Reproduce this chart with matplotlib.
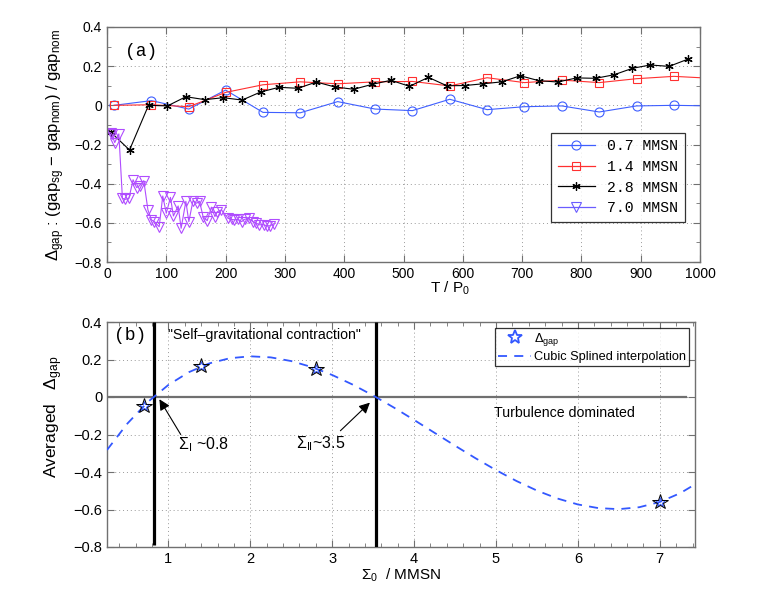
import matplotlib
matplotlib.use("Agg")
import matplotlib.pyplot as plt
from matplotlib.lines import Line2D
from matplotlib.ticker import MultipleLocator

plt.rcParams['font.family'] = ['Liberation Sans', 'DejaVu Sans']
plt.rcParams['mathtext.fontset'] = 'custom'
plt.rcParams['mathtext.rm'] = 'Liberation Sans'
plt.rcParams['mathtext.it'] = 'Liberation Sans:italic'
plt.rcParams['mathtext.bf'] = 'Liberation Sans:bold'

MONO = ['Liberation Mono', 'DejaVu Sans Mono']

# ---------------- panel (a) data ----------------
t_07 = [12, 75, 138, 200, 263, 326, 389, 452, 515, 578, 641, 704, 767, 830, 893, 956, 1019]
d_07 = [0.0, 0.024, -0.019, 0.078, -0.036, -0.038, 0.019, -0.019, -0.027, 0.031,
        -0.022, -0.007, -0.003, -0.034, -0.003, 0.0, -0.003]

t_14 = [12, 75, 138, 200, 263, 326, 389, 452, 515, 578, 641, 704, 767, 830, 893, 956, 1019]
d_14 = [0.0, 0.003, -0.007, 0.066, 0.105, 0.12, 0.11, 0.12, 0.122, 0.099,
        0.141, 0.116, 0.129, 0.116, 0.136, 0.148, 0.138]

t_28 = [6, 38, 70, 102, 133, 165, 196, 228, 259, 290, 322, 353, 384, 416, 447, 479,
        510, 542, 573, 603, 634, 666, 697, 728, 760, 792, 824, 855, 886, 916, 948, 979]
d_28 = [-0.136, -0.228, 0.0, -0.003, 0.044, 0.029, 0.039, 0.027, 0.068, 0.092, 0.087,
        0.119, 0.094, 0.082, 0.107, 0.128, 0.097, 0.143, 0.1, 0.101, 0.11, 0.12,
        0.151, 0.126, 0.119, 0.14, 0.138, 0.156, 0.189, 0.206, 0.199, 0.235]

t_70 = [6, 8, 13, 20, 26, 31, 37, 44, 50, 55, 62, 69, 75, 80, 88, 94, 100, 107, 112,
        120, 125, 133, 138, 145, 151, 156, 162, 169, 176, 182, 186, 193, 204, 210,
        215, 221, 227, 232, 239, 246, 252, 257, 264, 270, 275, 281]
d_70 = [-0.14, -0.146, -0.19, -0.146, -0.475, -0.48, -0.475, -0.38, -0.42, -0.41,
        -0.385, -0.534, -0.585, -0.594, -0.62, -0.463, -0.551, -0.47, -0.565, -0.514,
        -0.628, -0.49, -0.594, -0.487, -0.5, -0.49, -0.568, -0.589, -0.52, -0.568,
        -0.543, -0.534, -0.577, -0.582, -0.585, -0.582, -0.594, -0.582, -0.577,
        -0.594, -0.602, -0.61, -0.61, -0.615, -0.615, -0.605]

labels_a = ['0.7 MMSN', '1.4 MMSN', '2.8 MMSN', '7.0 MMSN']

# ---------------- panel (b) data ----------------
sigma_pts = [0.7, 1.4, 2.8, 7.0]
avg_gap = [-0.047, 0.163, 0.152, -0.56]

spline_x = [0.25, 0.5, 0.75, 1.0, 1.25, 1.5, 1.75, 2.0, 2.25, 2.5, 2.75, 3.0, 3.25,
            3.5, 3.75, 4.0, 4.25, 4.5, 4.75, 5.0, 5.25, 5.5, 5.75, 6.0, 6.25, 6.5,
            6.75, 7.0, 7.25, 7.43]
spline_y = [-0.2825, -0.1411, -0.0260, 0.0646, 0.1325, 0.1793, 0.2069, 0.2170,
            0.2113, 0.1916, 0.1597, 0.1173, 0.0661, 0.0079, -0.0555, -0.1224,
            -0.1911, -0.2597, -0.3266, -0.3899, -0.4480, -0.4991, -0.5414, -0.5731,
            -0.5926, -0.5981, -0.5878, -0.5599, -0.5128, -0.4659]

sigma_I = 0.822
sigma_II = 3.53

FRAME = '#707070'

fig = plt.figure(figsize=(7.63, 6.0), dpi=100)

def style_axes(ax):
    for s in ax.spines.values():
        s.set_color(FRAME)
        s.set_linewidth(1.0)
    ax.tick_params(which='both', direction='in', top=True, right=True,
                   color=FRAME, labelsize=10)
    ax.tick_params(which='major', length=5)
    ax.tick_params(which='minor', length=3)
    ax.grid(True, which='major', linestyle=(0, (1, 3)), color='#9a9a9a', lw=0.7)

# ---------------- panel (a) ----------------
axa = fig.add_axes([107/763, 1-262/600, 593/763, 235/600])
style_axes(axa)
c_blue = '#3f5fff'
c_red = '#ff3030'
c_purple = '#b04cff'
axa.plot(t_07, d_07, color=c_blue, lw=0.8, marker='o', ms=6.5, mfc='none', mew=0.8)
axa.plot(t_14, d_14, color=c_red, lw=0.8, marker='s', ms=5.5, mfc='none', mew=0.8)
axa.plot(t_28, d_28, color='black', lw=0.8, marker=(6, 2, 0), ms=6, mew=0.9)
axa.plot(t_70, d_70, color=c_purple, lw=0.8, marker='v', ms=7, mfc='none', mew=0.8)
axa.set_xlim(0, 1000)
axa.set_ylim(-0.8, 0.4)
axa.xaxis.set_major_locator(MultipleLocator(100))
axa.yaxis.set_minor_locator(MultipleLocator(0.1))
axa.set_yticks([-0.8, -0.6, -0.4, -0.2, 0, 0.2, 0.4])
axa.set_yticklabels(['\u22120.8', '\u22120.6', '\u22120.4', '\u22120.2', '0', '0.2', '0.4'])
axa.text(0.03, 0.93, '(a)', transform=axa.transAxes, family=MONO, fontsize=13,
         va='top', ha='left')
axa.set_xlabel(r'T / P$_0$', fontsize=11)
axa.xaxis.set_label_coords(0.578, -0.075, transform=axa.transAxes)
axa.xaxis.label.set_va('top')
axa.set_ylabel(r'$\Delta_{\rm gap}$ : (gap$_{\rm sg}$ $-$ gap$_{\rm nom}$) / gap$_{\rm nom}$',
               fontsize=12)
axa.yaxis.set_label_coords(-0.068, 0.5)

handles = [
    Line2D([], [], color=c_blue, lw=0.9, marker='o', ms=6.5, mfc='none', mew=0.8),
    Line2D([], [], color=c_red, lw=0.9, marker='s', ms=5.5, mfc='none', mew=0.8),
    Line2D([], [], color='black', lw=0.9, marker=(6, 2, 0), ms=6, mew=0.9),
    Line2D([], [], color='#6a5cff', lw=0.9, marker='v', ms=7, mfc='none', mew=0.8),
]
leg = axa.legend(handles, labels_a, loc='lower right', bbox_to_anchor=(0.974, 0.17),
                 prop={'family': MONO, 'size': 10.7}, frameon=True, fancybox=False,
                 edgecolor='black', handlelength=2.5, handletextpad=0.8,
                 borderpad=0.45, labelspacing=0.45, borderaxespad=0)
leg.get_frame().set_linewidth(0.9)

# ---------------- panel (b) ----------------
axb = fig.add_axes([107/763, 1-547/600, 588/763, 225/600])
style_axes(axb)
axb.set_xlim(0.25, 7.43)
axb.set_ylim(-0.8, 0.4)
axb.xaxis.set_major_locator(MultipleLocator(1))
axb.xaxis.set_minor_locator(MultipleLocator(0.2))
axb.set_yticks([-0.8, -0.6, -0.4, -0.2, 0, 0.2, 0.4])
axb.set_yticklabels(['\u22120.8', '\u22120.6', '\u22120.4', '\u22120.2', '0', '0.2', '0.4'])
for lab in axb.get_xticklabels() + axb.get_yticklabels():
    lab.set_fontsize(10.5)

axb.plot([0.25, 7.32], [0, 0], color='#707070', lw=1.6, zorder=2)
axb.plot([sigma_I, sigma_I], [-0.79, 0.4], color='black', lw=2.3, zorder=3,
         solid_capstyle='butt')
axb.plot([sigma_II, sigma_II], [-0.8, 0.4], color='black', lw=2.3, zorder=3,
         solid_capstyle='butt')
spl, = axb.plot(spline_x, spline_y, color='#3358ff', lw=1.3, ls=(0, (5, 4)), zorder=4)
axb.plot(sigma_pts, avg_gap, ls='none', marker='*', ms=7, mfc='none',
         mec='#3358ff', mew=0.8, zorder=5)
axb.plot(sigma_pts, avg_gap, ls='none', marker='*', ms=11.5, mfc='none',
         mec='black', mew=0.7, zorder=6)
star_h = Line2D([], [], ls='none', marker='*', ms=10, mfc='none', mec='#3358ff', mew=1.3)

legb = axb.legend([star_h, spl], [r'$\Delta_{\rm gap}$', 'Cubic Splined interpolation'],
                  loc='upper right', bbox_to_anchor=(0.99, 0.975),
                  prop={'size': 9.2}, frameon=True,
                  fancybox=False, edgecolor='black', handlelength=2.6,
                  handletextpad=0.2, borderpad=0.25, labelspacing=0.25, borderaxespad=0)
legb.get_frame().set_linewidth(0.9)

axb.text(0.33, 0.33, '(b)', family=MONO, fontsize=13, va='center', ha='left')
axb.text(1.0, 0.33, '"Self\u2013gravitational contraction"',
         fontsize=10.2, va='center', ha='left')
axb.text(4.98, -0.085, 'Turbulence dominated', fontsize=10.2,
         va='center', ha='left')
axb.text(1.12, -0.255, r'$\Sigma_{\rm I}$ ~0.8', fontsize=11.5,
         va='center', ha='left')
axb.text(2.56, -0.25, r'$\Sigma_{\rm II}$~3.5', fontsize=11.5,
         va='center', ha='left')
arrow_kw = dict(arrowstyle='-|>', color='black', lw=0.8, mutation_scale=16,
                shrinkA=0, shrinkB=0)
axb.annotate('', xy=(0.89, -0.012), xytext=(1.15, -0.2), arrowprops=arrow_kw)
axb.annotate('', xy=(3.46, -0.03), xytext=(3.1, -0.18), arrowprops=arrow_kw)

axb.set_xlabel(r'$\Sigma_0$  / MMSN', fontsize=11)
axb.xaxis.set_label_coords(0.5, -0.085)
axb.xaxis.label.set_va('top')
axb.set_ylabel(r'Averaged   $\Delta_{\rm gap}$', fontsize=12.5)
axb.yaxis.set_label_coords(-0.072, 0.58)

fig.savefig('out.png', dpi=100)
